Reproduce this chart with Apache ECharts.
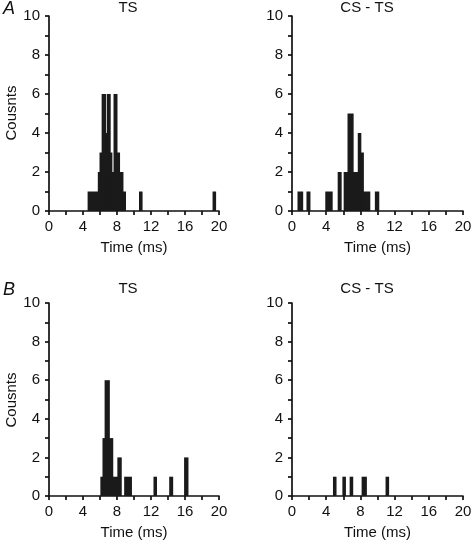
<!DOCTYPE html>
<html><head><meta charset="utf-8">
<script src="https://cdn.jsdelivr.net/npm/echarts@6/dist/echarts.min.js"></script>
<style>html,body{margin:0;padding:0;background:#fff}#c{width:476px;height:544px}</style>
</head><body><div id="c"></div>
<script>
// Panel A, TS: bin edges (ms) and counts
const aTsLo  = [4.6, 5.8, 6.0, 6.25, 6.65, 6.85, 7.2, 7.4, 7.65, 8.0, 8.3, 8.7, 10.65, 19.3];
const aTsHi  = [5.8, 6.0, 6.25, 6.65, 6.85, 7.2, 7.4, 7.65, 8.0, 8.3, 8.7, 9.0, 10.95, 19.6];
const aTsCnt = [1, 2, 3, 6, 4, 6, 3, 2, 6, 3, 2, 1, 1, 1];
// Panel A, CS - TS
const aCsLo  = [0.7, 1.75, 3.95, 5.4, 6.1, 6.55, 7.15, 7.75, 8.05, 8.35, 9.75];
const aCsHi  = [1.25, 2.1, 4.7, 5.75, 6.55, 7.15, 7.75, 8.05, 8.35, 9.1, 10.15];
const aCsCnt = [1, 1, 1, 2, 2, 5, 2, 4, 3, 1, 1];
// Panel B, TS
const bTsLo  = [6.1, 6.35, 6.6, 7.1, 7.5, 8.1, 8.9, 12.35, 14.2, 15.95];
const bTsHi  = [6.35, 6.6, 7.1, 7.5, 8.1, 8.5, 9.7, 12.65, 14.55, 16.35];
const bTsCnt = [1, 3, 6, 3, 1, 2, 1, 1, 1, 2];
// Panel B, CS - TS
const bCsLo  = [4.85, 5.95, 6.8, 8.2, 11.0];
const bCsHi  = [5.15, 6.25, 7.1, 8.7, 11.3];
const bCsCnt = [1, 1, 1, 1, 1];

const panelTitles = ['TS', 'CS - TS', 'TS', 'CS - TS'];
const panelLetters = ['A', 'B'];
const xLabel = 'Time (ms)';
const yLabel = 'Cousnts';

const FONT = '"Liberation Sans", Arial, Helvetica, sans-serif';
const FS = 15;
const chart = echarts.init(document.getElementById('c'));

const panels = [[aTsLo, aTsHi, aTsCnt], [aCsLo, aCsHi, aCsCnt], [bTsLo, bTsHi, bTsCnt], [bCsLo, bCsHi, bCsCnt]];
const grids = [
  {left: 49, right: 257, top: 16, bottom: 333},
  {left: 292, right: 13, top: 16, bottom: 333},
  {left: 49, right: 257, top: 303, bottom: 48},
  {left: 292, right: 13, top: 303, bottom: 48}
];
const axisLineStyle = {color: '#111', width: 1.7};
const xAxes = [], yAxes = [], series = [];
panels.forEach((p, i) => {
  xAxes.push({
    gridIndex: i, type: 'value', min: 0, max: 20, interval: 2,
    name: xLabel, nameLocation: 'middle', nameGap: 29,
    nameTextStyle: {fontFamily: FONT, fontSize: FS, color: '#111'},
    axisLine: {show: true, lineStyle: axisLineStyle},
    axisTick: {show: true, length: 4, lineStyle: axisLineStyle},
    axisLabel: {fontFamily: FONT, fontSize: FS, color: '#111', margin: 8,
      formatter: v => (v % 4 === 0 ? String(v) : '')},
    splitLine: {show: false}
  });
  yAxes.push({
    gridIndex: i, type: 'value', min: 0, max: 10, interval: 1,
    axisLine: {show: true, lineStyle: axisLineStyle},
    axisTick: {show: true, length: 4, lineStyle: axisLineStyle},
    axisLabel: {fontFamily: FONT, fontSize: FS, color: '#111', margin: 9,
      formatter: v => (v % 2 === 0 ? String(v) : '')},
    splitLine: {show: false}
  });
  const data = p[0].map((lo, k) => [lo, p[1][k], p[2][k]]);
  series.push({
    type: 'custom', xAxisIndex: i, yAxisIndex: i, data: data,
    encode: {x: [0, 1], y: 2},
    renderItem: function (params, api) {
      const a = api.coord([api.value(0), api.value(2)]);
      const b = api.coord([api.value(1), 0]);
      const pad = 0.5;
      return {type: 'rect', shape: {x: a[0] - pad, y: a[1], width: b[0] - a[0] + 2 * pad, height: b[1] - a[1]},
        style: {fill: '#1a1a1a'}};
    }
  });
});

const texts = [];
const titlePos = [[128, 8], [367, 8], [128, 289], [367, 289]];
panelTitles.forEach((t, i) => texts.push({type: 'text', x: titlePos[i][0], y: titlePos[i][1],
  style: {text: t, font: FS + 'px ' + FONT, fill: '#111', textAlign: 'center', textVerticalAlign: 'middle'}}));
texts.push({type: 'text', x: 9, y: 9, style: {text: panelLetters[0], font: 'italic 18px ' + FONT, fill: '#111', textAlign: 'center', textVerticalAlign: 'middle'}});
texts.push({type: 'text', x: 9, y: 290, style: {text: panelLetters[1], font: 'italic 18px ' + FONT, fill: '#111', textAlign: 'center', textVerticalAlign: 'middle'}});
[113, 400].forEach(cy => texts.push({type: 'text', x: 12, y: cy, rotation: Math.PI / 2,
  style: {text: yLabel, font: FS + 'px ' + FONT, fill: '#111', textAlign: 'center', textVerticalAlign: 'middle'}}));

chart.setOption({
  animation: false,
  grid: grids,
  xAxis: xAxes,
  yAxis: yAxes,
  series: series,
  graphic: texts
});
</script></body></html>
